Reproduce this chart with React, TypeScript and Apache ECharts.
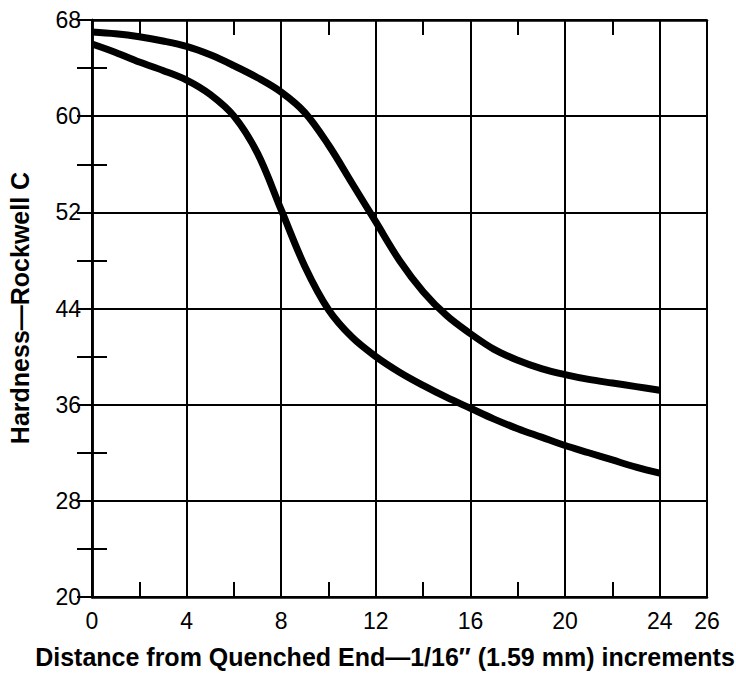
import React, { useEffect, useRef } from "react";
import * as echarts from "echarts";

// Distance from quenched end, in 1/16" increments
const distance = [0, 1, 2, 3, 4, 5, 6, 7, 8, 9, 10, 11, 12, 13, 14, 15, 16, 17, 18, 19, 20, 21, 22, 23, 24];
// Upper hardness curve (Rockwell C)
const upperHardness = [67.0, 66.85, 66.6, 66.25, 65.8, 65.1, 64.2, 63.2, 62.0, 60.3, 57.6, 54.4, 51.2, 48.0, 45.4, 43.4, 41.9, 40.6, 39.7, 39.0, 38.5, 38.1, 37.8, 37.5, 37.2];
// Lower hardness curve (Rockwell C)
const lowerHardness = [66.0, 65.3, 64.5, 63.8, 63.0, 61.8, 60.0, 56.9, 52.2, 47.5, 43.9, 41.6, 40.0, 38.7, 37.6, 36.6, 35.7, 34.8, 34.0, 33.3, 32.6, 32.0, 31.4, 30.8, 30.3];

const xMin = 0;
const xMax = 26;
const xMajor = 4;
const xMinor = 2;
const yMin = 20;
const yMax = 68;
const yMajor = 8;
const yMinor = 4;

const xTitle = "Distance from Quenched End\u20141/16\u2033 (1.59 mm) increments";
const yTitle = "Hardness\u2014Rockwell C";

const FONT = "'Liberation Sans', Arial, Helvetica, sans-serif";

export default function App() {
  const ref = useRef<HTMLDivElement>(null);

  useEffect(() => {
    if (!ref.current) return;
    const chart = echarts.init(ref.current, null, { renderer: "svg" });

    const black = "#000";
    const tickAxis = (position: string, interval: number, min: number, max: number, showLine: boolean) => ({
      type: "value",
      position,
      min,
      max,
      interval,
      axisLine: { show: showLine, lineStyle: { color: black, width: 2.5 } },
      axisTick: { show: true, inside: true, length: 15, lineStyle: { color: black, width: 2 } },
      axisLabel: { show: false },
      splitLine: { show: false },
    });

    const option: any = {
      animation: false,
      backgroundColor: "#fff",
      grid: { left: 92, top: 20, right: 29, bottom: 76, containLabel: false },
      xAxis: [
        {
          type: "value",
          position: "bottom",
          min: xMin,
          max: xMax,
          interval: xMajor,
          axisLine: { show: true, lineStyle: { color: black, width: 2.5 } },
          axisTick: { show: false },
          axisLabel: { color: black, fontSize: 23, fontFamily: FONT, margin: 12 },
          splitLine: { show: true, lineStyle: { color: black, width: 2 } },
        },
        tickAxis("bottom", xMinor, xMin, xMax, false),
        tickAxis("top", xMinor, xMin, xMax, true),
      ],
      yAxis: [
        {
          type: "value",
          position: "left",
          min: yMin,
          max: yMax,
          interval: yMajor,
          axisLine: { show: true, lineStyle: { color: black, width: 2.5 } },
          axisTick: { show: false },
          axisLabel: { color: black, fontSize: 23, fontFamily: FONT, margin: 11 },
          splitLine: { show: true, lineStyle: { color: black, width: 2 } },
        },
        tickAxis("left", yMinor, yMin, yMax, false),
        tickAxis("right", yMinor, yMin, yMax, true),
      ],
      series: [
        {
          type: "line",
          xAxisIndex: 0,
          yAxisIndex: 0,
          data: distance.map((d, i) => [d, upperHardness[i]]),
          smooth: 0.35,
          symbol: "none",
          lineStyle: { color: black, width: 7 },
        },
        {
          type: "line",
          xAxisIndex: 0,
          yAxisIndex: 0,
          data: distance.map((d, i) => [d, lowerHardness[i]]),
          smooth: 0.35,
          symbol: "none",
          lineStyle: { color: black, width: 7 },
        },
      ],
      graphic: [
        {
          type: "text",
          x: 385,
          y: 657,
          style: {
            text: xTitle,
            fill: black,
            font: `bold 25px ${FONT}`,
            align: "center",
            verticalAlign: "middle",
          },
        },
        {
          type: "text",
          x: 20,
          y: 308,
          rotation: Math.PI / 2,
          style: {
            text: yTitle,
            fill: black,
            font: `bold 25px ${FONT}`,
            align: "center",
            verticalAlign: "middle",
          },
        },
      ],
    };

    chart.setOption(option);
    return () => chart.dispose();
  }, []);

  return (
    <div
      ref={ref}
      style={{ position: "fixed", left: 0, top: 0, width: 736, height: 673, background: "#fff" }}
    />
  );
}
